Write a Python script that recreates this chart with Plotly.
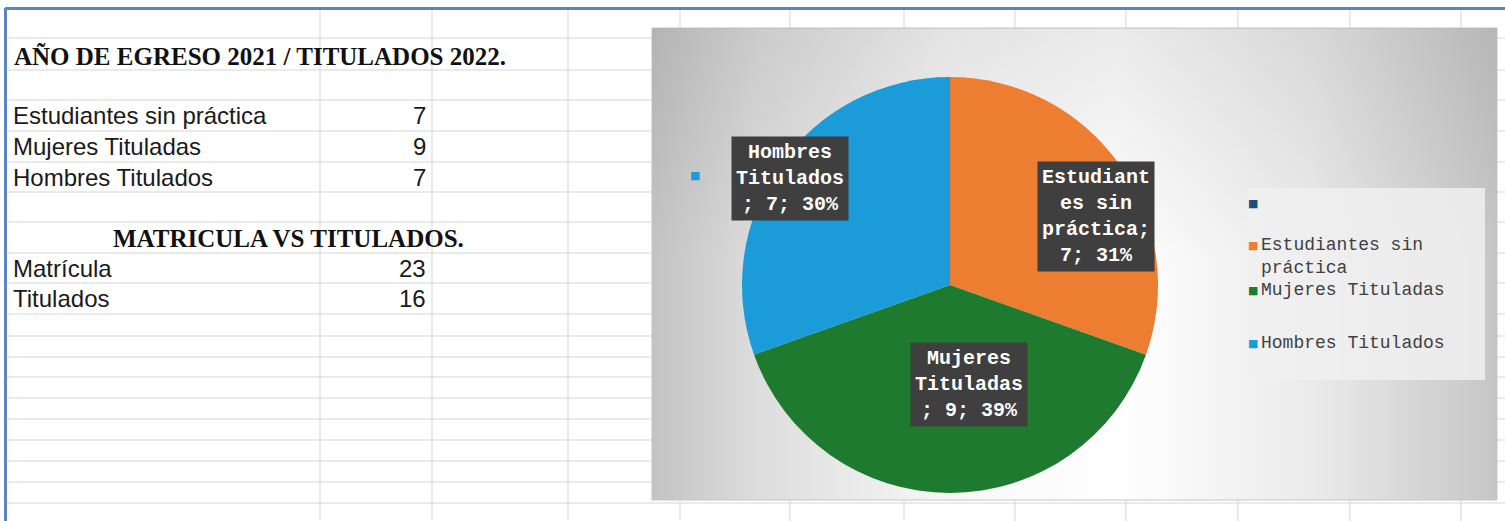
import textwrap
import numpy as np
import plotly.graph_objects as go

# ---------------- data ----------------
categories = ["Estudiantes sin práctica", "Mujeres Tituladas", "Hombres Titulados"]
values = [7, 9, 7]
pct_labels = [31, 39, 30]          # percentages as printed on the chart
colors = ["#ED7D31", "#1E7A2E", "#1B9BD7"]
blank_series_color = "#1F4E79"     # empty header entry in the legend

table1_title = "AÑO DE EGRESO 2021 / TITULADOS 2022."
table1_labels = ["Estudiantes sin práctica", "Mujeres Tituladas", "Hombres Titulados"]
table1_values = [7, 9, 7]
table2_title = "MATRICULA VS TITULADOS."
table2_labels = ["Matrícula", "Titulados"]
table2_values = [23, 16]

# ---------------- layout constants (page pixels) ----------------
W, H = 1505, 521
col_lines = [320, 432, 568, 680, 790, 904, 1015, 1126, 1238, 1350, 1461]
row_lines = [38, 70, 100, 131, 162, 192, 222, 253, 283, 314, 336, 357, 377,
             398, 419, 440, 461, 482, 503]
chart_box = (652, 28, 1497, 500)
cx, cy, R = 950, 285, 208


def px2paper_x(x):
    return x / W


def px2paper_y(y):
    return 1 - y / H


fig = go.Figure()

# chart area background with gradients
x0, y0, x1, y1 = chart_box
fig.add_trace(go.Scatter(
    x=[x0, x1, x1, x0, x0], y=[y0, y0, y1, y1, y0],
    mode="lines", fill="toself",
    fillgradient=dict(type="horizontal",
                      colorscale=[[0, "#c3c3c3"], [0.12, "#dcdcdc"], [0.35, "#f7f7f7"],
                                  [0.55, "#ffffff"], [0.78, "#ebebeb"], [1, "#c6c6c6"]]),
    line=dict(color="#c6c6c6", width=1),
    hoverinfo="skip", showlegend=False))
fig.add_trace(go.Scatter(
    x=[x0, x1, x1, x0, x0], y=[y0, y0, y1, y1, y0],
    mode="lines", fill="toself",
    fillgradient=dict(type="vertical",
                      colorscale=[[0, "rgba(0,0,0,0.0)"], [0.5, "rgba(0,0,0,0.0)"],
                                  [1, "rgba(0,0,0,0.08)"]]),
    line=dict(width=0),
    hoverinfo="skip", showlegend=False))

# pie
fig.add_trace(go.Pie(
    labels=categories, values=values, sort=False, direction="clockwise",
    rotation=0, marker=dict(colors=colors, line=dict(width=0)),
    textinfo="none", showlegend=False,
    domain=dict(x=[px2paper_x(cx - R), px2paper_x(cx + R)],
                y=[px2paper_y(cy + R), px2paper_y(cy - R)])))

shapes = []
for x in col_lines:
    shapes.append(dict(type="line", xref="x", yref="y", x0=x, x1=x, y0=8, y1=H,
                       line=dict(color="#d5d5d5", width=1), layer="below"))
for y in row_lines:
    shapes.append(dict(type="line", xref="x", yref="y", x0=5, x1=W, y0=y, y1=y,
                       line=dict(color="#d5d5d5", width=1), layer="below"))
# blue sheet border
shapes.append(dict(type="line", xref="x", yref="y", x0=5, x1=W, y0=8.5, y1=8.5,
                   line=dict(color="#5b84c4", width=3), layer="below"))
shapes.append(dict(type="line", xref="x", yref="y", x0=5.5, x1=5.5, y0=8, y1=H,
                   line=dict(color="#5b84c4", width=3), layer="below"))
# legend background
shapes.append(dict(type="rect", xref="x", yref="y", x0=1248, x1=1485, y0=188, y1=380,
                   fillcolor="rgba(240,240,240,0.85)", line=dict(width=0), layer="above"))

ann = []
sans = "Liberation Sans, Arial, sans-serif"
serif = "Liberation Serif, Times New Roman, serif"
mono = "Liberation Mono, Courier New, monospace"

# table 1
ann.append(dict(x=12, y=56, text=f"<b>{table1_title}</b>", xanchor="left", yanchor="middle",
                font=dict(family=serif, size=25, color="#111111")))
for i, (lab, v) in enumerate(zip(table1_labels, table1_values)):
    yc = (row_lines[2 + i] + row_lines[3 + i]) / 2
    ann.append(dict(x=11, y=yc, text=lab, xanchor="left", yanchor="middle",
                    font=dict(family=sans, size=24, color="#1a1a1a")))
    ann.append(dict(x=428, y=yc, text=str(v), xanchor="right", yanchor="middle",
                    font=dict(family=sans, size=24, color="#1a1a1a")))
# table 2
ann.append(dict(x=288, y=(row_lines[6] + row_lines[7]) / 2 + 1, text=f"<b>{table2_title}</b>",
                xanchor="center", yanchor="middle",
                font=dict(family=serif, size=25, color="#111111")))
for i, (lab, v) in enumerate(zip(table2_labels, table2_values)):
    yc = (row_lines[7 + i] + row_lines[8 + i]) / 2
    ann.append(dict(x=11, y=yc, text=lab, xanchor="left", yanchor="middle",
                    font=dict(family=sans, size=24, color="#1a1a1a")))
    ann.append(dict(x=428, y=yc, text=str(v), xanchor="right", yanchor="middle",
                    font=dict(family=sans, size=24, color="#1a1a1a")))

# data labels positioned from slice geometry
label_texts = [
    "Estudiant<br>es sin<br>práctica;<br>{v}; {p}%",
    "Mujeres<br>Tituladas<br>; {v}; {p}%",
    "Hombres<br>Titulados<br>; {v}; {p}%",
]
radial_frac = [0.80, 0.48, 0.85]
nudges = [(10, 27), (19, 0), (-16, -5)]
total = sum(values)
cum = np.cumsum([0] + values)
for i in range(len(values)):
    theta = np.deg2rad((cum[i] + values[i] / 2) / total * 360)
    px = cx + radial_frac[i] * R * np.sin(theta) + nudges[i][0]
    py = cy - radial_frac[i] * R * np.cos(theta) + nudges[i][1]
    ann.append(dict(x=px, y=py, text="<b>" + label_texts[i].format(v=values[i], p=pct_labels[i]) + "</b>",
                    xanchor="center", yanchor="middle", bgcolor="#3f3f3f", borderpad=4,
                    font=dict(family=mono, size=20, color="#ffffff")))
    if i == 2:
        ann.append(dict(x=px - 95, y=py - 3, text="■", xanchor="center", yanchor="middle",
                        font=dict(family="DejaVu Sans", size=11, color=colors[i])))

# custom legend
legend_names = [""] + categories
legend_colors = [blank_series_color] + colors
legend_y = [203, 245, 290, 343]
for name, col, ly in zip(legend_names, legend_colors, legend_y):
    ann.append(dict(x=1253, y=ly, text="■", xanchor="center", yanchor="middle",
                    font=dict(family="DejaVu Sans", size=11, color=col)))
    if name:
        ann.append(dict(x=1259, y=ly - 12, text="<br>".join(textwrap.wrap(name, 17)),
                        xanchor="left", yanchor="top", align="left",
                        font=dict(family=mono, size=18, color="#404040")))

for a in ann:
    a.setdefault("xref", "x")
    a.setdefault("yref", "y")
    a.setdefault("showarrow", False)

fig.update_layout(
    width=W, height=H, margin=dict(l=0, r=0, t=0, b=0),
    paper_bgcolor="#ffffff", plot_bgcolor="#ffffff",
    xaxis=dict(range=[0, W], visible=False, fixedrange=True),
    yaxis=dict(range=[H, 0], visible=False, fixedrange=True),
    shapes=shapes, annotations=ann, showlegend=False,
)

fig.write_html("out.html", config={"displayModeBar": False},
               post_script="document.body.style.margin='0';document.body.style.overflow='hidden';")
